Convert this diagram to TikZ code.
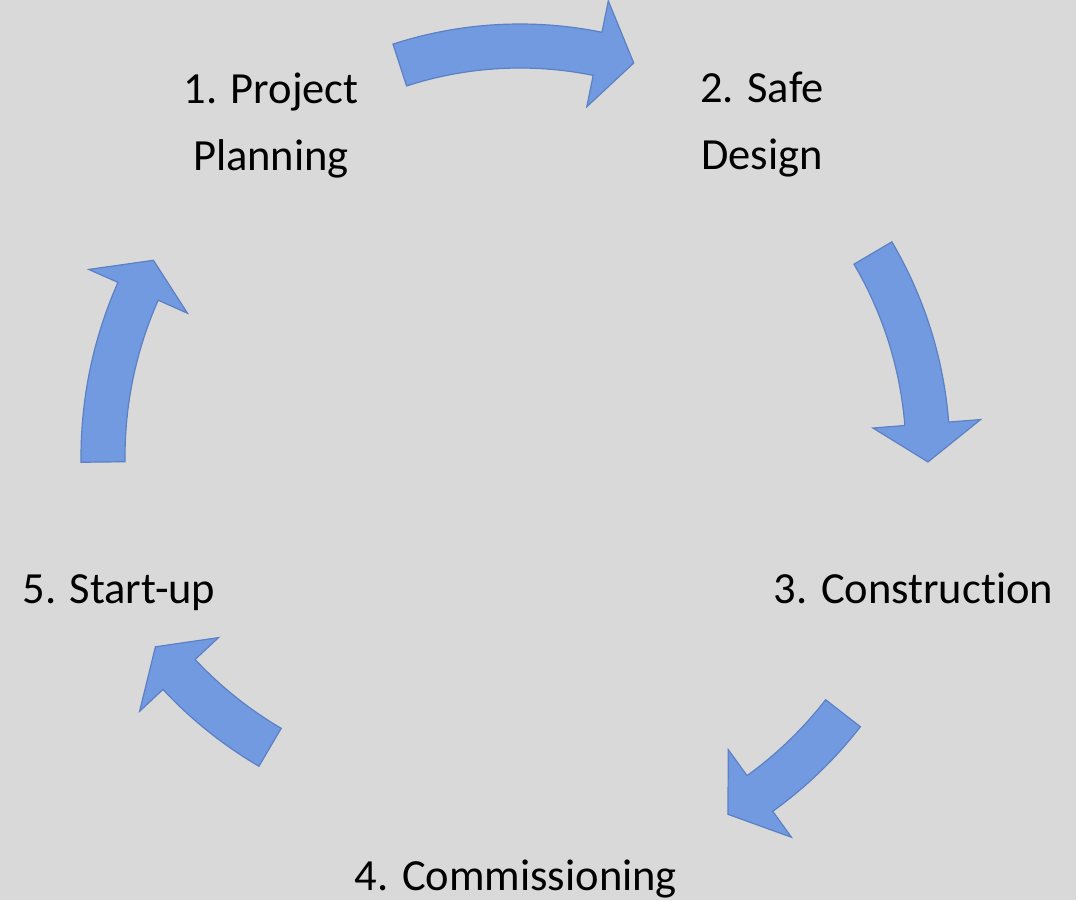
\documentclass[tikz,border=0pt]{standalone}
\usepackage{fontspec}
\setmainfont{Carlito}[Ligatures=NoCommon]

\definecolor{slidegray}{RGB}{217,217,217}
\definecolor{arrowblue}{RGB}{114,154,224}
\definecolor{arrowedge}{RGB}{92,128,196}

\tikzset{
  steptext/.style={font=\fontsize{44.5}{67}\selectfont, inner sep=0pt, anchor=base, align=center},
  arrowbody/.style={fill=arrowblue, draw=arrowedge, line width=1.2pt, line join=miter}
}

% curved block arrow: centre, radius, tail angle, head angle, tip angle
\newcommand{\cyclearrow}[5]{%
  \pgfmathsetmacro{\cyaout}{#2+22}\pgfmathsetmacro{\cyain}{#2-22}%
  \pgfmathsetmacro{\cybout}{#2+54}\pgfmathsetmacro{\cybin}{#2-54}%
  \begin{scope}[shift={(#1)}]
    \draw[arrowbody] (#3:\cyaout) arc[start angle=#3, end angle=#4, radius=\cyaout]
      -- (#4:\cybout) -- (#5:#2) -- (#4:\cybin) -- (#4:\cyain)
      arc[start angle=#4, end angle=#3, radius=\cyain] -- cycle;
  \end{scope}}

\begin{document}
\begin{tikzpicture}[x=1pt,y=-1pt]
\useasboundingbox (0,0) rectangle (1076,900);
\fill[slidegray] (0,0) rectangle (1076,900);
% steps
\node[steptext] (plan) at (271,170) {1. Project\\Planning};
\node[steptext] (design) at (762,169) {2. Safe\\Design};
\node[steptext] (build) at (913.5,603) {3. Construction};
\node[steptext] (commission) at (516,890) {4. Commissioning};
\node[steptext] (startup) at (119,603) {5. Start-up};
% arrows
\cyclearrow{520,435}{389}{252}{281.5}{287}
\cyclearrow{530,455}{398}{329.5}{355.5}{361}
\cyclearrow{523,465}{405}{37.8}{54.2}{59.6}
\cyclearrow{475,398}{405}{120.4}{136.95}{142.1}
\cyclearrow{512,457}{409}{179.3}{203.9}{208.75}
\end{tikzpicture}
\end{document}
